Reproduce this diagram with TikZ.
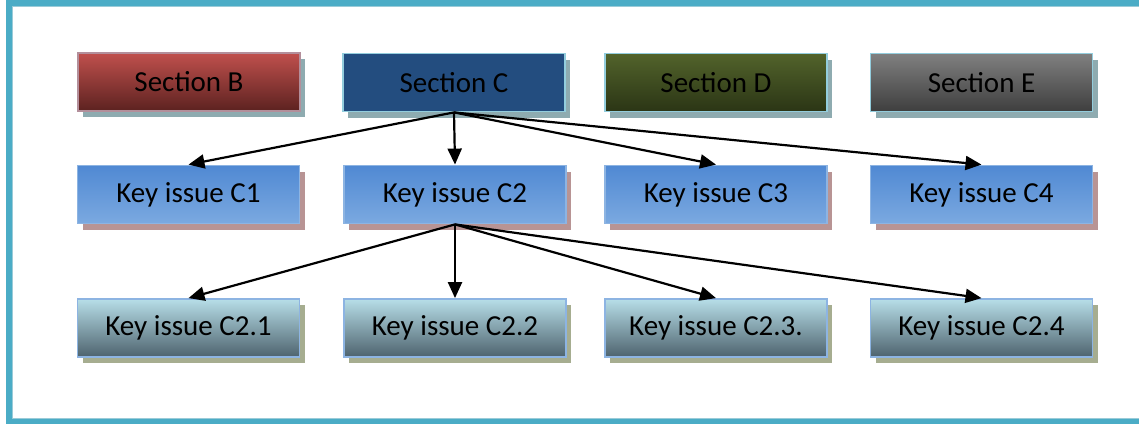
\documentclass[tikz,border=0pt]{standalone}
\usepackage{fontspec}
\setmainfont{Carlito}
\usetikzlibrary{arrows.meta,shadows}
\definecolor{framecol}{HTML}{4BACC6}
\definecolor{frameinner}{HTML}{9ACBD8}
\definecolor{edgeblue}{HTML}{93CDDD}
\definecolor{edgekey}{HTML}{8DB4E2}
\definecolor{shteal}{HTML}{8EABB0}
\definecolor{shrose}{HTML}{B89494}
\definecolor{sholive}{HTML}{A6AD90}
\definecolor{keytop}{HTML}{5089D3}
\definecolor{keybot}{HTML}{7BA9E0}
\definecolor{subtop}{HTML}{B7DEE8}
\definecolor{slatebot}{HTML}{4E636E}
\tikzset{
  box/.style={rectangle, minimum width=222pt, minimum height=58pt,
    line width=1.8pt, text=black, font=\fontsize{29}{34}\selectfont, inner sep=0pt},
  secbox/.style={box, draw=edgeblue,
    drop shadow={shadow xshift=5pt, shadow yshift=-6pt, fill=shteal, opacity=1}},
  keybox/.style={box, draw=edgekey, top color=keytop, bottom color=keybot,
    drop shadow={shadow xshift=5pt, shadow yshift=-6pt, fill=shrose, opacity=1}},
  subbox/.style={box, draw=edgekey, top color=subtop, bottom color=slatebot,
    drop shadow={shadow xshift=5pt, shadow yshift=-6pt, fill=sholive, opacity=1}},
  link/.style={line width=2.2pt, -{Triangle[length=16pt,width=14pt]}}
}
\begin{document}
\begin{tikzpicture}[x=1pt,y=-1pt]
\useasboundingbox (0,0) rectangle (1139,423);
\clip (0,0) rectangle (1139,423);
% outer frame
\draw[framecol, line width=6pt] (9,3) rectangle (1150,421.5);
\draw[frameinner, line width=0.8pt] (12.4,6.4) rectangle (1150,418.1);

% top row: sections
\node[secbox, draw=red!30!edgeblue, top color={rgb,255:red,192;green,80;blue,77}, bottom color={rgb,255:red,92;green,34;blue,32}] (secB) at (189,82) {Section B};
\node[secbox, fill={rgb,255:red,35;green,77;blue,127}] (secC) at (454,82.5) {Section C};
\node[secbox, top color={rgb,255:red,82;green,99;blue,43}, bottom color={rgb,255:red,43;green,53;blue,21}] (secD) at (716,82.5) {Section D};
\node[secbox, top color={rgb,255:red,128;green,128;blue,128}, bottom color={rgb,255:red,62;green,62;blue,62}] (secE) at (981.5,82.5) {Section E};

% middle row: key issues of section C
\node[keybox] (k1) at (188.5,194.5) {Key issue C1};
\node[keybox] (k2) at (455,194.5) {Key issue C2};
\node[keybox] (k3) at (716,194.5) {Key issue C3};
\node[keybox] (k4) at (981.5,194.5) {Key issue C4};

% bottom row: sub-issues of C2
\node[subbox] (s1) at (188.5,328) {Key issue C2.1};
\node[subbox] (s2) at (455,328) {Key issue C2.2};
\node[subbox] (s3) at (716,328) {Key issue C2.3.};
\node[subbox] (s4) at (981.5,328) {Key issue C2.4};

% connectors
\foreach \t in {k1,k2,k3,k4} \draw[link] (secC.south) -- (\t.north);
\foreach \t in {s1,s2,s3,s4} \draw[link] (k2.south) -- (\t.north);
\end{tikzpicture}
\end{document}
